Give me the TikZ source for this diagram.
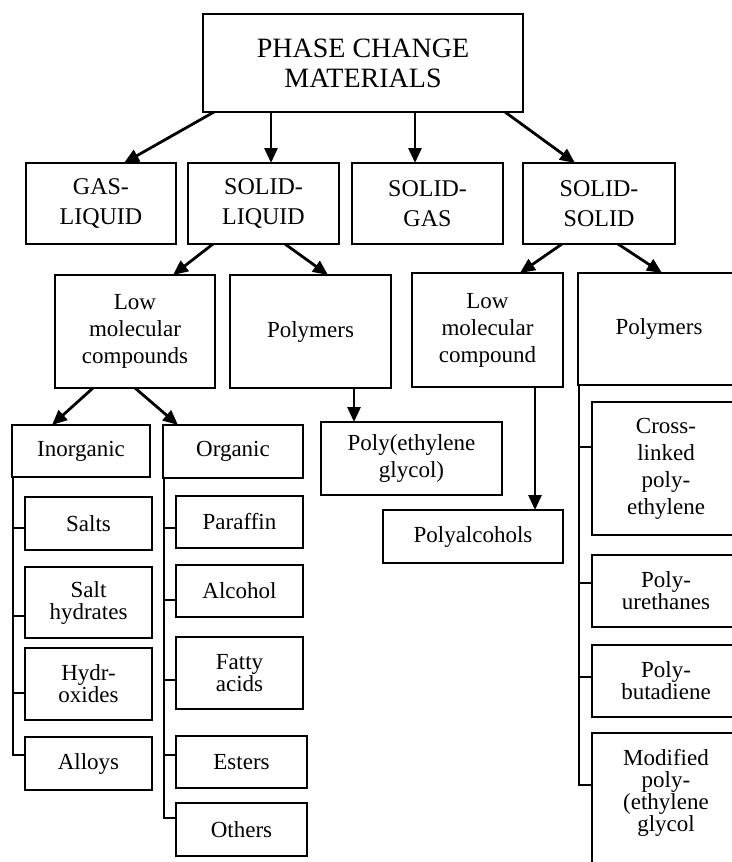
\documentclass[tikz,border=0pt]{standalone}
\usepackage{fontspec}
\setmainfont{Liberation Serif}
\usetikzlibrary{arrows.meta,calc}
\newcommand{\bx}[7][]{\node[box,#1,minimum width={(#5-#3)*0.5pt},minimum height={(#6-#4)*0.5pt}] (#2) at ({(#3+#5)/2},{(#4+#6)/2}) {#7};}
\begin{document}
\begin{tikzpicture}[x=0.5pt,y=-0.5pt,
  box/.style={draw,line width=0.8pt,inner sep=0pt,outer sep=0pt,align=center,font=\fontsize{11.5}{11}\selectfont},
  loose/.style={font=\fontsize{11.5}{13.5}\selectfont},
  big/.style={font=\fontsize{14}{15}\selectfont},
  lvtwo/.style={font=\fontsize{12}{15}\selectfont},
  arr/.style={line width=1.4pt,-{Triangle[length=7.5pt,width=6.5pt]}},
  br/.style={line width=1pt}]
\useasboundingbox[fill=white] (0,0) rectangle (732,862);
\clip (0,0) rectangle (732,862);
% boxes
\bx[big]{top}{203}{14}{523}{112}{PHASE CHANGE\\MATERIALS}
\bx[lvtwo]{gl}{26}{163}{176}{244}{GAS-\\LIQUID}
\bx[lvtwo]{sl}{188}{163}{339}{244}{SOLID-\\LIQUID}
\bx[lvtwo]{sg}{352}{163}{503}{244}{SOLID-\\GAS}
\bx[lvtwo]{ss}{523}{163}{675}{244}{SOLID-\\SOLID}
\bx[loose]{lmc}{55}{275}{215}{388}{Low\\molecular\\compounds}
\bx{polA}{230}{275}{391}{388}{Polymers}
\bx[loose]{lmcB}{412}{273}{563}{387}{Low\\molecular\\compound}
\bx{polB}{578}{273}{740}{385}{Polymers}
\bx{inorg}{12}{425}{150}{477}{Inorganic}
\bx{org}{163}{425}{303}{478}{Organic}
\bx[loose]{peg}{321}{422}{502}{495}{Poly(ethylene\\glycol)}
\bx{pa}{383}{510}{563}{563}{Polyalcohols}
\bx{salts}{25}{497}{152}{550}{Salts}
\bx{sh}{25}{567}{152}{638}{Salt\\hydrates}
\bx{hyd}{25}{648}{152}{720}{Hydr-\\oxides}
\bx{alloys}{25}{737}{152}{790}{Alloys}
\bx{par}{176}{496}{303}{548}{Paraffin}
\bx{alc}{176}{565}{303}{617}{Alcohol}
\bx{fat}{176}{637}{303}{709}{Fatty\\acids}
\bx{est}{176}{736}{307}{788}{Esters}
\bx{oth}{176}{803}{307}{856}{Others}
\bx[loose]{xl}{592}{402}{740}{535}{Cross-\\linked\\poly-\\ethylene}
\bx{pu}{592}{555}{740}{627}{Poly-\\urethanes}
\bx{pb}{592}{645}{740}{717}{Poly-\\butadiene}
\bx{mod}{592}{733}{740}{875}{}
\node[font=\fontsize{11.5}{11}\selectfont,align=center] (modt) at (666,793) {Modified\\poly-\\(ethylene\\glycol};
% arrows
\draw[arr] ($(top.south west)+(11,0)$) -- ($(gl.north)+(23,0)$);
\coordinate (a2) at ($(top.south west)+(68,0)$);
\draw[arr] (a2) -- (a2 |- sl.north);
\coordinate (a3) at ($(top.south west)+(212,0)$);
\draw[arr] (a3) -- (a3 |- sg.north);
\draw[arr] ($(top.south east)+(-18,0)$) -- ($(ss.north)+(-24,0)$);
\draw[arr] ($(sl.south west)+(25,0)$) -- ($(lmc.north)+(38,0)$);
\draw[arr] ($(sl.south west)+(97,0)$) -- ($(polA.north)+(17.5,0)$);
\draw[arr] ($(ss.south west)+(39,0)$) -- ($(lmcB.north)+(32.5,0)$);
\draw[arr] ($(ss.south west)+(95,0)$) -- ($(polB.north)+(3,0)$);
\draw[arr] ($(lmc.south west)+(38,0)$) -- ($(inorg.north)+(-29,0)$);
\draw[arr] ($(lmc.south west)+(80,0)$) -- ($(org.north)+(-55,0)$);
\coordinate (a4) at ($(polA.south west)+(124,0)$);
\draw[arr] (a4) -- (a4 |- peg.north);
\coordinate (a5) at ($(lmcB.south west)+(123,0)$);
\draw[arr] (a5) -- (a5 |- pa.north);
% brackets: inorganic
\coordinate (bi) at ($(inorg.south west)+(1,0)$);
\coordinate (i1) at ($(salts.west)+(0,4.5)$);
\coordinate (i2) at ($(sh.west)+(0,13)$);
\coordinate (i3) at ($(hyd.west)+(0,9)$);
\coordinate (i4) at ($(alloys.west)+(0,-8.5)$);
\draw[br] (bi) -- (bi |- i4) -- (i4);
\draw[br] (bi |- i1) -- (i1);
\draw[br] (bi |- i2) -- (i2);
\draw[br] (bi |- i3) -- (i3);
% brackets: organic
\coordinate (bo) at ($(org.south west)+(1,0)$);
\coordinate (o1) at ($(par.west)+(0,6)$);
\coordinate (o2) at ($(alc.west)+(0,9)$);
\coordinate (o3) at ($(fat.west)+(0,7)$);
\coordinate (o4) at ($(est.west)+(0,-7)$);
\coordinate (o5) at ($(oth.west)+(0,-11.5)$);
\draw[br] (bo) -- (bo |- o5) -- (o5);
\draw[br] (bo |- o1) -- (o1);
\draw[br] (bo |- o2) -- (o2);
\draw[br] (bo |- o3) -- (o3);
\draw[br] (bo |- o4) -- (o4);
% brackets: polymers (solid-solid)
\coordinate (bp) at ($(polB.south west)+(1,0)$);
\coordinate (p1) at ($(xl.west)+(0,-21.5)$);
\coordinate (p2) at ($(pu.west)+(0,-8)$);
\coordinate (p3) at ($(pb.west)+(0,-4)$);
\coordinate (p4) at ($(mod.west)+(0,-19)$);
\draw[br] (bp) -- (bp |- p4) -- (p4);
\draw[br] (bp |- p1) -- (p1);
\draw[br] (bp |- p2) -- (p2);
\draw[br] (bp |- p3) -- (p3);
\end{tikzpicture}
\end{document}
